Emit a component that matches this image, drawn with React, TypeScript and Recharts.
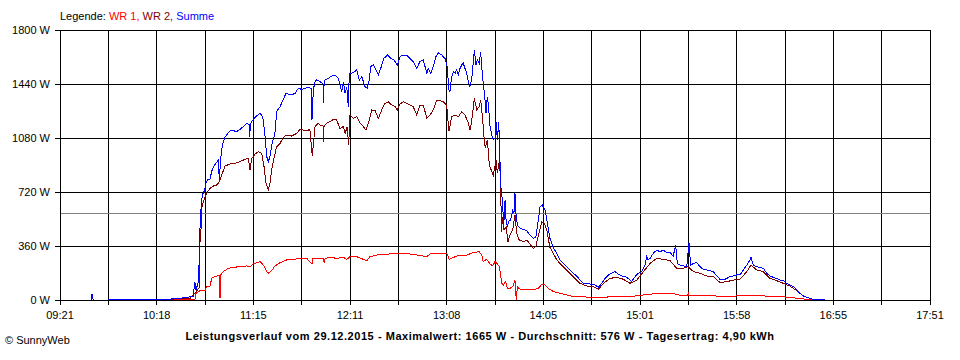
import React from 'react';
import { LineChart, Line, XAxis, YAxis, CartesianGrid, ReferenceLine } from 'recharts';

// time values: minutes after 09:21, power in W
const timeLabels = ['09:21', '10:18', '11:15', '12:11', '13:08', '14:05', '15:01', '15:58', '16:55', '17:51'];
const powerTicks = [0, 360, 720, 1080, 1440, 1800];
const averageW = 576;

const summe: [number, number | null][] = [
  [18.3, 0], [18.7, 40], [19.5, 0], [20, null], [28.3, 3], [63.3, 5], [73.3, 15], [78.0, 25], [79.1, 120], [79.7, 67],
  [81.1, 120], [81.7, 290], [82.1, 490], [82.7, 613], [83.4, 700], [84.4, 722], [85.0, 747], [85.6, 780], [86.8, 804],
  [87.9, 804], [88.9, 856], [89.9, 889], [91.3, 911], [92.8, 933], [93.4, 800], [94.2, 944], [94.8, 1000], [95.7, 1056],
  [96.7, 1084], [97.7, 1100], [99.7, 1129], [101.6, 1129], [103.6, 1122], [105.5, 1138], [107.5, 1156], [109.4, 1178],
  [110.8, 1170], [111.2, 1087], [111.6, 1170], [112.4, 1189], [113.7, 1211], [115.3, 1227], [117.2, 1244], [118.2, 1233],
  [119.2, 1200], [120.2, 1089], [121.2, 956], [122.1, 922], [123.1, 956], [124.1, 1033], [125.0, 1071], [126.0, 1111],
  [127.0, 1256], [129.0, 1289], [130.9, 1338], [132.5, 1378], [133.8, 1373], [135.8, 1367], [137.8, 1378], [139.7, 1411],
  [141.7, 1404], [143.6, 1411], [145.6, 1418], [147.2, 1410], [147.7, 1200], [148.5, 1400], [149.5, 1456], [150.5, 1467],
  [152.4, 1456], [154.2, 1440], [154.5, 1311], [154.8, 1440], [155.3, 1467], [157.3, 1478], [159.3, 1493], [161.2, 1500],
  [163.1, 1478], [164.1, 1444], [165.1, 1389], [166.1, 1456], [167.1, 1378], [168.1, 1422], [169.0, 1289], [169.6, 1511],
  [171.0, 1511], [172.9, 1522], [173.9, 1533], [175.5, 1467], [176.9, 1489], [178.8, 1422], [180.1, 1411], [181.3, 1467],
  [182.1, 1556], [183.7, 1567], [185.7, 1522], [186.6, 1500], [188.0, 1544], [189.9, 1611], [191.9, 1633], [193.9, 1611],
  [195.8, 1600], [197.7, 1567], [199.3, 1622], [201.2, 1633], [203.2, 1633], [205.2, 1611], [207.1, 1589], [209.1, 1544],
  [211.0, 1589], [213.0, 1600], [215.0, 1511], [215.9, 1544], [217.3, 1511], [218.8, 1556], [220.4, 1622], [221.8, 1648],
  [223.8, 1633], [225.7, 1611], [227.0, 1556], [227.9, 1400], [228.6, 1389], [229.6, 1489], [230.6, 1522], [231.6, 1511],
  [232.5, 1533], [233.5, 1500], [234.5, 1544], [235.5, 1567], [236.4, 1578], [237.4, 1544], [238.4, 1511], [239.4, 1456],
  [240.3, 1422], [241.3, 1467], [242.3, 1589], [242.9, 1665], [243.9, 1567], [244.6, 1600], [245.8, 1578], [246.6, 1656],
  [247.2, 1556], [248.1, 1444], [249.1, 1344], [249.7, 1244], [250.5, 1356], [251.1, 1300], [252.1, 1156], [253.1, 1100],
  [254.0, 1067], [255.0, 1078], [255.6, 1189], [256.4, 1067], [257.2, 1189], [257.9, 933], [258.4, 756], [259.0, 711],
  [259.5, 600], [260.3, 533], [260.9, 667], [261.5, 533], [262.2, 489], [263.4, 533], [264.2, 533], [265.4, 600],
  [266.1, 578], [266.7, 711], [267.3, 578], [268.1, 500], [269.7, 478], [271.6, 471], [273.6, 462], [275.5, 433],
  [277.5, 411], [279.0, 422], [280.4, 533], [281.4, 622], [282.7, 633], [284.3, 600], [285.3, 540], [287.2, 411],
  [289.2, 350], [291.2, 310], [293.1, 267], [295.1, 244], [297.0, 222], [299.0, 200], [300.9, 178], [302.9, 160],
  [304.8, 133], [306.8, 111], [310.7, 107], [313.6, 100], [315.6, 84], [317.6, 111], [319.5, 144], [321.5, 167],
  [323.4, 178], [325.3, 189], [327.3, 173], [329.3, 160], [331.2, 156], [333.1, 144], [335.1, 122], [337.1, 156],
  [339.0, 178], [341.0, 189], [342.9, 233], [343.9, 289], [344.8, 267], [345.9, 278], [347.8, 311], [349.8, 333],
  [351.7, 322], [353.7, 333], [355.6, 316], [357.6, 316], [359.5, 293], [360.9, 367], [361.9, 244], [363.4, 233],
  [365.4, 227], [367.4, 222], [368.7, 382], [369.7, 233], [371.3, 244], [373.2, 249], [375.2, 222], [377.1, 204],
  [379.1, 200], [381.0, 196], [383.0, 189], [385.0, 160], [386.9, 138], [388.8, 133], [390.8, 144], [392.8, 156],
  [394.7, 160], [396.7, 167], [398.6, 167], [400.6, 200], [402.6, 233], [404.5, 267], [405.1, 284], [406.4, 233],
  [408.4, 222], [410.3, 218], [412.3, 211], [414.3, 178], [416.2, 160], [418.1, 151], [420.1, 144], [422.1, 133],
  [424.0, 129], [426.0, 111], [427.9, 100], [429.9, 89], [431.9, 67], [433.8, 44], [435.7, 27], [437.7, 18],
  [439.7, 11], [441.6, 4], [448.4, 3],
];

const wr2: [number, number][] = [
  [28.3, 2], [63.3, 4], [73.3, 11], [76.2, 11], [79.1, 45], [80.5, 67], [81.5, 80], [81.7, 356], [82.5, 422], [83.1, 611],
  [83.7, 644], [85.0, 689], [86.0, 711], [87.9, 744], [89.9, 760], [91.9, 767], [93.4, 789], [94.8, 833], [96.7, 893],
  [99.7, 907], [102.6, 911], [105.5, 922], [108.4, 938], [110.4, 944], [111.4, 867], [112.4, 944], [114.3, 973],
  [116.2, 989], [118.2, 978], [119.6, 889], [120.8, 778], [122.1, 733], [123.1, 778], [124.1, 867], [125.4, 944],
  [127.0, 1022], [129.0, 1044], [130.9, 1084], [132.9, 1100], [135.8, 1093], [138.8, 1111], [140.7, 1140], [143.6, 1129],
  [146.5, 1135], [147.9, 960], [149.5, 1156], [151.4, 1178], [152.4, 1167], [154.2, 1160], [154.5, 1056], [154.8, 1160],
  [156.3, 1178], [158.3, 1189], [160.2, 1204], [162.2, 1200], [164.1, 1144], [166.1, 1156], [167.1, 1111], [168.4, 1156],
  [169.2, 1033], [170.0, 1233], [171.9, 1211], [173.9, 1222], [175.9, 1178], [177.8, 1156], [179.4, 1133], [181.3, 1200],
  [182.7, 1267], [184.7, 1262], [186.6, 1211], [188.6, 1267], [190.5, 1311], [192.5, 1322], [194.4, 1300], [196.4, 1289],
  [197.7, 1267], [199.3, 1307], [201.2, 1322], [203.2, 1311], [205.2, 1300], [207.1, 1289], [209.1, 1233], [211.0, 1300],
  [213.0, 1300], [215.0, 1211], [216.9, 1233], [218.8, 1267], [220.8, 1333], [222.8, 1329], [224.7, 1322], [226.7, 1300],
  [227.9, 1133], [228.2, 1133], [229.6, 1222], [231.6, 1233], [233.5, 1222], [235.5, 1256], [237.4, 1233], [239.4, 1178],
  [240.3, 1133], [241.3, 1189], [242.9, 1344], [244.3, 1267], [245.8, 1289], [246.6, 1333], [247.8, 1200], [248.5, 1089],
  [249.3, 1011], [250.5, 1067], [251.7, 900], [253.1, 856], [254.0, 833], [255.6, 933], [256.4, 844], [257.6, 933],
  [258.4, 756], [258.7, 456], [259.5, 556], [260.3, 467], [261.5, 489], [262.6, 389], [263.8, 433], [265.4, 467],
  [266.7, 567], [267.7, 444], [269.2, 400], [271.6, 389], [273.6, 400], [275.5, 373], [277.5, 344], [279.0, 360],
  [281.0, 456], [282.4, 522], [283.7, 515], [285.3, 470], [287.2, 350], [289.2, 311], [291.2, 267], [293.1, 244],
  [297.0, 200], [300.9, 156], [304.8, 111], [308.8, 93], [312.7, 89], [315.6, 71], [318.6, 111], [322.4, 144],
  [326.4, 151], [330.3, 138], [334.1, 111], [338.1, 133], [342.0, 189], [345.9, 244], [349.8, 278], [353.7, 271],
  [357.6, 262], [361.5, 211], [365.4, 211], [368.3, 222], [371.3, 189], [375.2, 178], [379.1, 160], [383.0, 156],
  [386.9, 116], [390.8, 122], [394.7, 133], [398.6, 138], [402.6, 189], [405.1, 233], [408.4, 200], [412.3, 189],
  [416.2, 144], [420.1, 129], [424.0, 111], [427.9, 93], [431.9, 62], [435.7, 27], [439.7, 11], [441.6, 4], [448.4, 2],
];

const wr1: [number, number][] = [
  [28.3, 1], [73.3, 4], [79.1, 5], [79.7, 44], [81.1, 56], [82.1, 62], [85.0, 62], [85.9, 89], [87.9, 89], [88.9, 144],
  [90.9, 156], [93.5, 165], [93.8, 13], [94.1, 165], [95.7, 189], [98.7, 211], [101.6, 218], [105.5, 222], [109.4, 227],
  [111.4, 222], [113.3, 240], [115.3, 249], [117.2, 256], [119.2, 233], [121.2, 189], [122.1, 178], [124.1, 196],
  [126.0, 227], [129.0, 249], [132.9, 267], [136.8, 271], [140.7, 276], [144.6, 278], [147.7, 240], [148.3, 276],
  [150.5, 276], [154.3, 278], [154.8, 250], [155.4, 278], [158.3, 284], [162.2, 278], [166.1, 284], [168.1, 271],
  [170.0, 289], [173.9, 289], [179.8, 262], [181.7, 289], [185.8, 300], [193.4, 307], [205.2, 307], [215.0, 289],
  [216.9, 307], [226.8, 311], [228.2, 271], [230.6, 284], [234.5, 300], [238.4, 300], [242.3, 316], [245.8, 322],
  [247.2, 300], [248.1, 256], [250.1, 271], [252.1, 240], [253.6, 227], [255.0, 256], [256.4, 240], [257.6, 222],
  [258.4, 156], [259.0, 111], [260.0, 100], [261.2, 122], [262.2, 78], [263.8, 78], [265.4, 89], [266.7, 133],
  [267.5, 0], [268.1, 89], [269.7, 71], [273.6, 67], [277.5, 67], [280.4, 78], [282.4, 104], [284.3, 100], [286.2, 78],
  [289.2, 56], [295.1, 40], [299.0, 27], [304.8, 22], [314.6, 16], [324.3, 22], [334.1, 22], [343.9, 36], [349.8, 44],
  [359.5, 44], [363.4, 31], [368.1, 31], [368.3, 56], [368.7, 31], [383.0, 27], [392.8, 24], [402.6, 31], [412.3, 27],
  [422.1, 22], [427.9, 18], [433.8, 9], [439.7, 3], [441.6, 1],
];

const toRows = (pairs: [number, number | null][]) => pairs.map(([t, v]) => ({ t, v }));

const SPAN = 510;
const STEP = SPAN / 18;
const xTicks = Array.from({ length: 19 }, (_, i) => i * STEP);

const font = '"Liberation Sans", Arial, sans-serif';

const fmtX = (v: number) => {
  const i = Math.round(v / STEP);
  return i % 2 === 0 ? timeLabels[i / 2] : '';
};

export default function App() {
  return (
    <div style={{ position: 'absolute', left: 0, top: 0, width: 960, height: 360, background: '#fff', fontFamily: font }}>
      <style>{`.recharts-cartesian-grid line, .recharts-cartesian-axis line, .recharts-reference-line line { shape-rendering: crispEdges; } .recharts-line path { shape-rendering: crispEdges; }`}</style>
      <LineChart width={960} height={360} margin={{ top: 30, right: 30, bottom: 30, left: 0 }}>
        <CartesianGrid stroke="#000" strokeWidth={1} />
        <XAxis
          type="number"
          dataKey="t"
          domain={[0, SPAN]}
          ticks={xTicks}
          interval={0}
          tickFormatter={fmtX}
          height={30}
          tickSize={5}
          tickMargin={6}
          axisLine={{ stroke: '#000' }}
          tickLine={{ stroke: '#000' }}
          tick={{ fill: '#000', fontSize: 11, fontFamily: font }}
          allowDataOverflow
        />
        <YAxis
          type="number"
          domain={[0, 1800]}
          ticks={powerTicks}
          interval={0}
          width={60}
          tickSize={5}
          tickMargin={5}
          tickFormatter={(v: number) => `${v} W`}
          axisLine={{ stroke: '#000' }}
          tickLine={{ stroke: '#000' }}
          tick={{ fill: '#000', fontSize: 11, fontFamily: font }}
        />
        <ReferenceLine y={averageW} stroke="#808080" strokeWidth={1} />
        <Line data={toRows(wr1)} dataKey="v" stroke="#ff0000" strokeWidth={1} dot={false} activeDot={false} isAnimationActive={false} type="linear" />
        <Line data={toRows(wr2)} dataKey="v" stroke="#800000" strokeWidth={1} dot={false} activeDot={false} isAnimationActive={false} type="linear" />
        <Line data={toRows(summe)} dataKey="v" stroke="#0000ff" strokeWidth={1} dot={false} activeDot={false} isAnimationActive={false} type="linear" />
      </LineChart>
      <div style={{ position: 'absolute', left: 60, top: 10, fontSize: 11, lineHeight: '13px', whiteSpace: 'pre' }}>
        <span style={{ color: '#000' }}>Legende: </span>
        <span style={{ color: '#ff0000' }}>WR 1, </span>
        <span style={{ color: '#800000' }}>WR 2, </span>
        <span style={{ color: '#0000ff' }}>Summe</span>
      </div>
      <div style={{ position: 'absolute', left: 0, width: 960, top: 330, textAlign: 'center', fontSize: 11, lineHeight: '13px', fontWeight: 'bold', letterSpacing: '0.55px', color: '#000', whiteSpace: 'pre' }}>
        Leistungsverlauf vom 29.12.2015 - Maximalwert: 1665 W - Durchschnitt: 576 W - Tagesertrag: 4,90 kWh
      </div>
      <div style={{ position: 'absolute', left: 5, top: 334, fontSize: 11, lineHeight: '13px', color: '#000', whiteSpace: 'pre' }}>
        © SunnyWeb
      </div>
    </div>
  );
}
